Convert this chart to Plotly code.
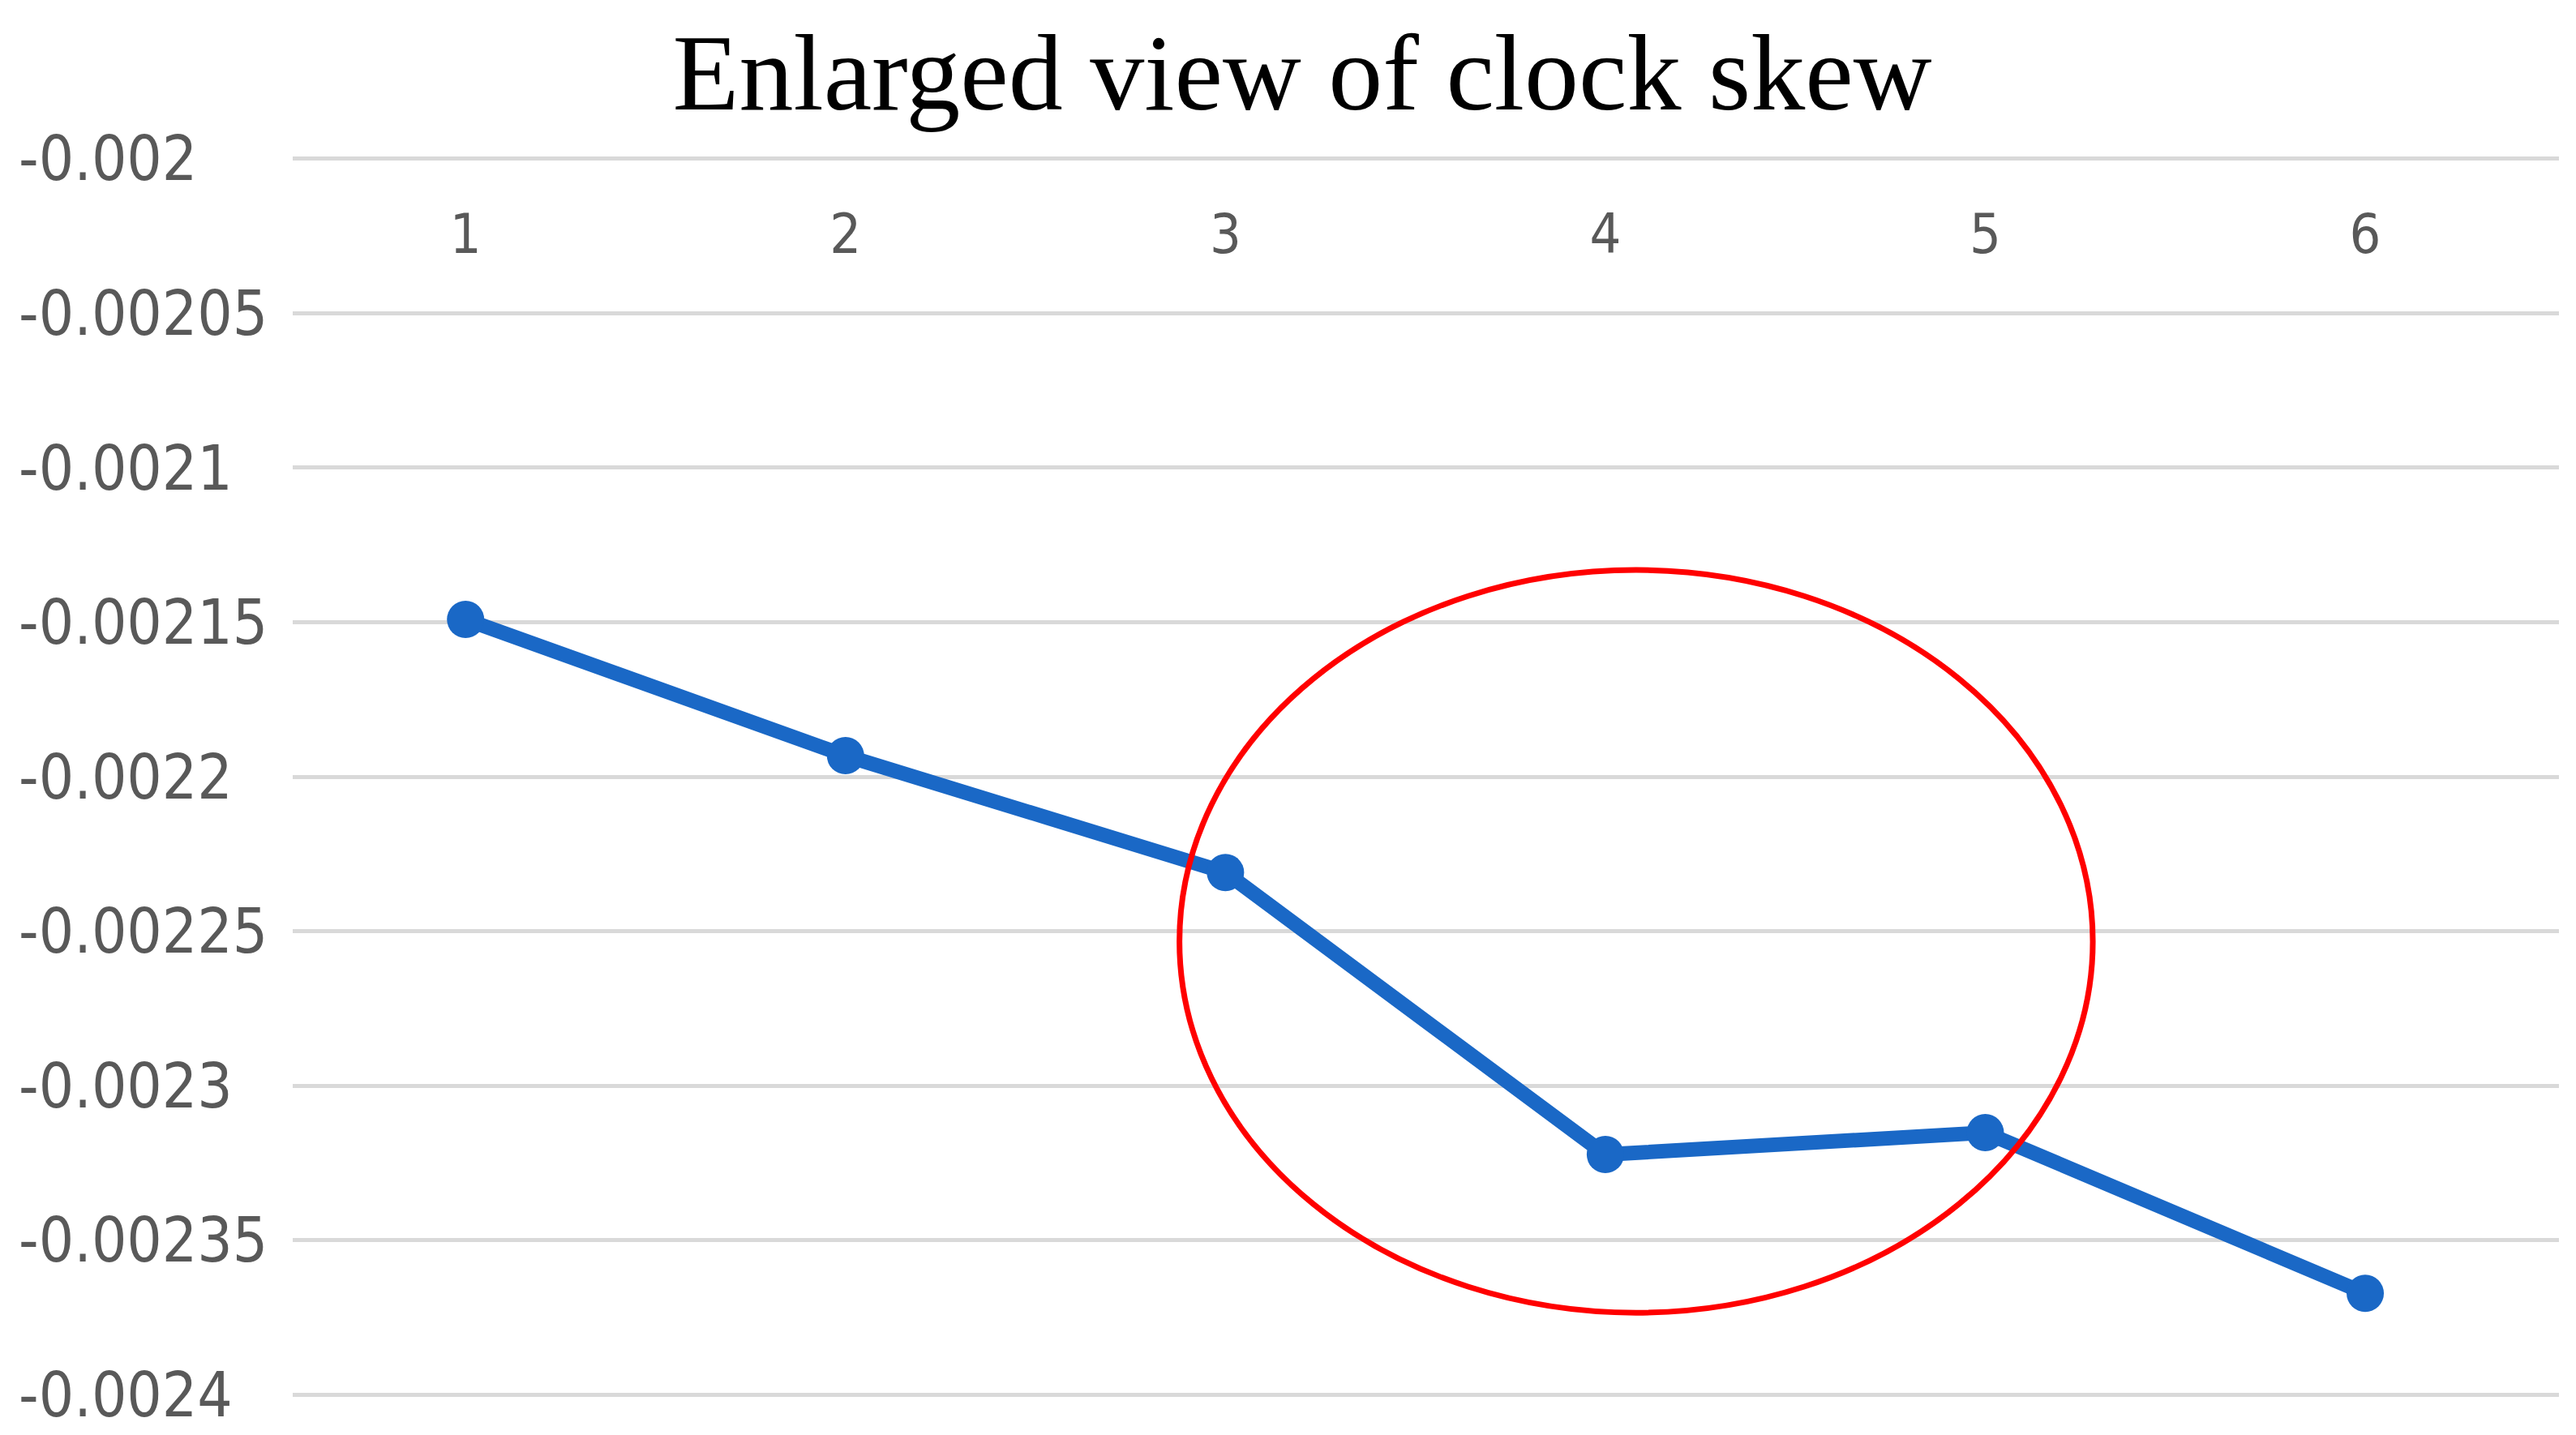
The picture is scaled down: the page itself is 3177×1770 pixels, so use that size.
import plotly.graph_objects as go

# clock skew per sample
samples = [1, 2, 3, 4, 5, 6]
skew = [-0.0021491, -0.0021932, -0.002231, -0.0023223, -0.0023152, -0.0023672]

y_ticks = [-0.002, -0.00205, -0.0021, -0.00215, -0.0022, -0.00225, -0.0023, -0.00235, -0.0024]
y_labels = ["-0.002", "-0.00205", "-0.0021", "-0.00215", "-0.0022", "-0.00225", "-0.0023", "-0.00235", "-0.0024"]

# region circled in red (samples 3..5)
circle_x = [2.879, 5.283]
circle_y = [-0.0023735, -0.0021331]

W, H = 3177, 1770
narrow = "Liberation Sans Narrow, DejaVu Sans Condensed, Arial Narrow, Liberation Sans, sans-serif"

fig = go.Figure(
    go.Scatter(
        x=samples,
        y=skew,
        mode="lines+markers",
        line=dict(color="#1a68c6", width=18),
        marker=dict(color="#1a68c6", size=46),
        hoverinfo="x+y",
    )
)

fig.add_shape(
    type="circle",
    xref="x", yref="y",
    x0=circle_x[0], x1=circle_x[1],
    y0=circle_y[0], y1=circle_y[1],
    line=dict(color="#ff0000", width=7),
)

# small pad so the end gridlines are kept (~4px)
pad = 0.000001
pad_px = 4
top, bottom = 188 - pad_px, 58 - pad_px
left, right = 14, 29
plot_left = 353
plot_h = H - top - bottom
label_axis_px = 318  # x labels sit just above this line (not drawn)

fig.update_layout(
    width=W,
    height=H,
    margin=dict(l=left, r=right, t=top, b=bottom),
    paper_bgcolor="white",
    plot_bgcolor="white",
    showlegend=False,
    title=dict(
        text="Enlarged view of clock skew",
        x=0.503,
        xref="container",
        xanchor="center",
        y=1 - 80 / H,
        yref="container",
        yanchor="middle",
        font=dict(family="Liberation Serif, Times New Roman, serif", size=134, color="black"),
    ),
    xaxis=dict(
        domain=[(plot_left - left) / (W - left - right), 1],
        range=[0.545, 6.51],
        tickvals=samples,
        side="top",
        anchor="free",
        position=1 - (label_axis_px - top) / plot_h,
        ticks="",
        showgrid=False,
        zeroline=False,
        showline=False,
        tickfont=dict(family=narrow, size=68, color="#595959"),
    ),
    yaxis=dict(
        range=[-0.0024 - pad, -0.002 + pad],
        anchor="free",
        position=0,
        side="right",
        tickvals=y_ticks,
        ticktext=y_labels,
        ticks="",
        showgrid=True,
        gridcolor="#d9d9d9",
        gridwidth=5,
        zeroline=False,
        showline=False,
        tickfont=dict(family=narrow, size=76, color="#595959"),
    ),
)

fig.write_html("out.html")
